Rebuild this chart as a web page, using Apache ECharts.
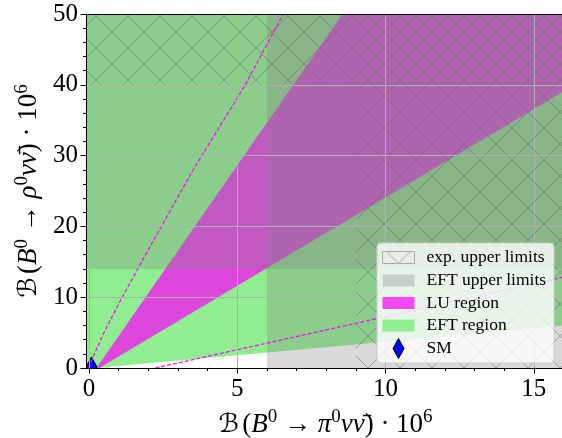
<!DOCTYPE html>
<html>
<head>
<meta charset="utf-8">
<script src="https://cdn.jsdelivr.net/npm/echarts@6/dist/echarts.min.js"></script>
<style>
html, body { margin: 0; padding: 0; background: #fff; }
#chart { width: 562px; height: 438px; }
</style>
</head>
<body>
<div id="chart"></div>
<script>
const SERIF = "'Liberation Serif', 'DejaVu Serif', serif";

// axes
const xMin = -0.1, xMax = 16.05;
const yMin = 0, yMax = 50;
const xMajorTicks = [0, 5, 10, 15];
const xMinorTicks = [0, 1, 2, 3, 4, 5, 6, 7, 8, 9, 10, 11, 12, 13, 14, 15, 16];

// limits (x: B0 -> pi0 nu nubar, y: B0 -> rho0 nu nubar)
const eftLimitPi = 6;
const eftLimitRho = 14;
const expLimitPi = 9;
const expLimitRho = 40;

// regions
const eftRegion = [[-0.1, 0], [0.26, 0], [16.05, 6.0], [16.05, 50], [-0.1, 50]];
const luRegion = [[0.25, 0], [8.55, 50], [16.05, 50], [16.05, 39.2], [0.35, 0]];
const dashSteep = [[0.0, 0.0], [0.14, 1.6], [0.54, 5.3], [1.07, 9.6], [2.0, 16.7], [3.5, 27.9], [5.27, 40], [6.55, 50]];
const dashShallow = [[2.24, 0], [16.05, 12.9]];
const smPoint = [0.085, 0.15];

// boxes built from the limits
const eftBoxes = [
    [[eftLimitPi, yMin], [xMax, yMin], [xMax, yMax], [eftLimitPi, yMax]],
    [[xMin, eftLimitRho], [xMax, eftLimitRho], [xMax, yMax], [xMin, yMax]]
];
const expBoxes = [
    [[expLimitPi, yMin], [xMax, yMin], [xMax, yMax], [expLimitPi, yMax]],
    [[xMin, expLimitRho], [xMax, expLimitRho], [xMax, yMax], [xMin, yMax]]
];

function hatchCanvas(shift) {
    const c = document.createElement('canvas');
    c.width = 32; c.height = 32;
    const g = c.getContext('2d');
    g.strokeStyle = 'rgba(110,110,110,0.55)';
    g.lineWidth = 1;
    g.beginPath();
    for (let k = -1; k <= 1; k++) {
        const o = k * 32 + shift;
        g.moveTo(o - 2, -2); g.lineTo(o + 34, 34);
        g.moveTo(o + 34, -2); g.lineTo(o - 2, 34);
    }
    g.stroke();
    return c;
}
const hatchA = {image: hatchCanvas(0), repeat: 'repeat'};
const hatchB = {image: hatchCanvas(16), repeat: 'repeat'};

function clipRect(params) {
    const cs = params.coordSys;
    return {type: 'rect', shape: {x: cs.x, y: cs.y, width: cs.width, height: cs.height}};
}

function polySeries(name, polys, styleOf) {
    return {
        type: 'custom',
        name: name,
        coordinateSystem: 'cartesian2d',
        data: polys.map(function (p, i) { return [i, 0]; }),
        silent: true,
        renderItem: function (params, api) {
            return {
                type: 'polygon',
                shape: {points: polys[params.dataIndex].map(function (p) { return api.coord(p); })},
                style: styleOf(params.dataIndex),
                clipPath: clipRect(params)
            };
        }
    };
}

const rectIcon = 'path://M0,0L0,0M0,20L0,20M0,4L32,4L32,16L0,16Z';
const diamondIcon = 'path://M0,10L0,10M32,10L32,10M10.5,10L16,0L21.5,10L16,20Z';

const nameRich = {
    c: {fontFamily: "'DejaVu Serif', 'DejaVu Sans', serif", fontSize: 26, fontStyle: 'italic', verticalAlign: 'bottom', color: '#000'},
    n: {fontFamily: SERIF, fontSize: 27, verticalAlign: 'bottom', color: '#000'},
    i: {fontFamily: SERIF, fontSize: 27, fontStyle: 'italic', verticalAlign: 'bottom', color: '#000'},
    s: {fontFamily: SERIF, fontSize: 19, verticalAlign: 'bottom', padding: [0, 0, 11, 0], color: '#000'}
};

const chart = echarts.init(document.getElementById('chart'));
chart.setOption({
    animation: false,
    grid: {left: 86, top: 14, width: 479, height: 354, containLabel: false, outerBoundsMode: 'none'},
    legend: {
        left: 377, top: 243, orient: 'vertical', z: 20,
        itemWidth: 32, itemHeight: 20, itemGap: 2.5,
        backgroundColor: 'rgba(255,255,255,0.8)', borderColor: '#cccccc', borderWidth: 1, borderRadius: 4,
        padding: [4, 8, 4, 5],
        selectedMode: false,
        textStyle: {fontFamily: SERIF, fontSize: 17.5, color: '#000', padding: [0, 0, 0, 7]},
        data: [
            {name: 'exp. upper limits', icon: rectIcon, itemStyle: {color: hatchA, borderColor: '#aaaaaa', borderWidth: 1}},
            {name: 'EFT upper limits', icon: rectIcon, itemStyle: {color: 'rgba(128,128,128,0.3)', borderWidth: 0}},
            {name: 'LU region', icon: rectIcon, itemStyle: {color: 'rgba(255,0,255,0.7)', borderWidth: 0}},
            {name: 'EFT region', icon: rectIcon, itemStyle: {color: '#90ee90', borderWidth: 0}},
            {name: 'SM', icon: diamondIcon, itemStyle: {color: '#0000ff', borderColor: '#000', borderWidth: 1}}
        ]
    },
    xAxis: [{
        type: 'value', min: xMin, max: xMax, position: 'bottom', z: 10,
        name: '{c|ℬ} {n|(}{i|B}{s|0}{n| → }{i|π}{s|0}{i|νν̄}{n|) · 10}{s|6}',
        nameLocation: 'middle', nameGap: 40,
        nameTextStyle: {rich: nameRich},
        axisLine: {show: true, onZero: false, lineStyle: {color: '#000', width: 1}},
        axisTick: {show: true, length: 5.5, customValues: xMajorTicks, lineStyle: {color: '#000'}},
        axisLabel: {customValues: xMajorTicks, fontFamily: SERIF, fontSize: 25, color: '#000', margin: 9},
        splitLine: {show: true, lineStyle: {color: '#b0b0b0', width: 1}}
    }, {
        type: 'value', min: xMin, max: xMax, position: 'bottom', z: 10,
        axisLine: {show: false, onZero: false},
        axisTick: {show: true, length: 3, customValues: xMinorTicks, lineStyle: {color: '#000'}},
        axisLabel: {show: false},
        splitLine: {show: false}
    }, {
        type: 'value', min: xMin, max: xMax, position: 'top', z: 10,
        axisLine: {show: true, onZero: false, lineStyle: {color: '#000', width: 1}},
        axisTick: {show: false}, axisLabel: {show: false}, splitLine: {show: false}
    }],
    yAxis: {
        type: 'value', min: yMin, max: yMax, interval: 10, z: 10,
        name: '{c|ℬ} {n|(}{i|B}{s|0}{n| → }{i|ρ}{s|0}{i|νν̄}{n|) · 10}{s|6}',
        nameLocation: 'middle', nameGap: 38, nameRotate: 90,
        nameTextStyle: {rich: nameRich},
        axisLine: {show: true, onZero: false, lineStyle: {color: '#000', width: 1}},
        axisTick: {show: true, length: 5.5, lineStyle: {color: '#000'}},
        minorTick: {show: true, splitNumber: 5, length: 3, lineStyle: {color: '#000'}},
        axisLabel: {fontFamily: SERIF, fontSize: 25, color: '#000', margin: 8},
        splitLine: {show: true, showMinLine: false, showMaxLine: false, lineStyle: {color: '#b0b0b0', width: 1}}
    },
    series: [
        polySeries('EFT region', [eftRegion], function () { return {fill: '#90ee90'}; }),
        polySeries('LU region', [luRegion], function () { return {fill: 'rgba(255,0,255,0.7)'}; }),
        polySeries('EFT upper limits', eftBoxes, function () { return {fill: 'rgba(128,128,128,0.3)'}; }),
        polySeries('exp. upper limits', expBoxes, function (i) { return {fill: i === 0 ? hatchA : hatchB}; }),
        {
            type: 'line', data: dashSteep, showSymbol: false, silent: true,
            lineStyle: {color: '#ff00ff', width: 1.2, type: [4, 2]}
        },
        {
            type: 'line', data: dashShallow, showSymbol: false, silent: true,
            lineStyle: {color: '#ff00ff', width: 1.2, type: [4, 2]}
        },
        {
            type: 'custom', name: 'SM', coordinateSystem: 'cartesian2d', silent: true,
            data: [smPoint],
            renderItem: function (params, api) {
                const p = api.coord(smPoint);
                return {
                    type: 'polygon',
                    shape: {points: [[p[0], p[1] - 10], [p[0] + 5.5, p[1]], [p[0], p[1] + 10], [p[0] - 5.5, p[1]]]},
                    style: {fill: '#0000ff', stroke: '#000', lineWidth: 1},
                    clipPath: clipRect(params)
                };
            }
        }
    ]
});
</script>
</body>
</html>
